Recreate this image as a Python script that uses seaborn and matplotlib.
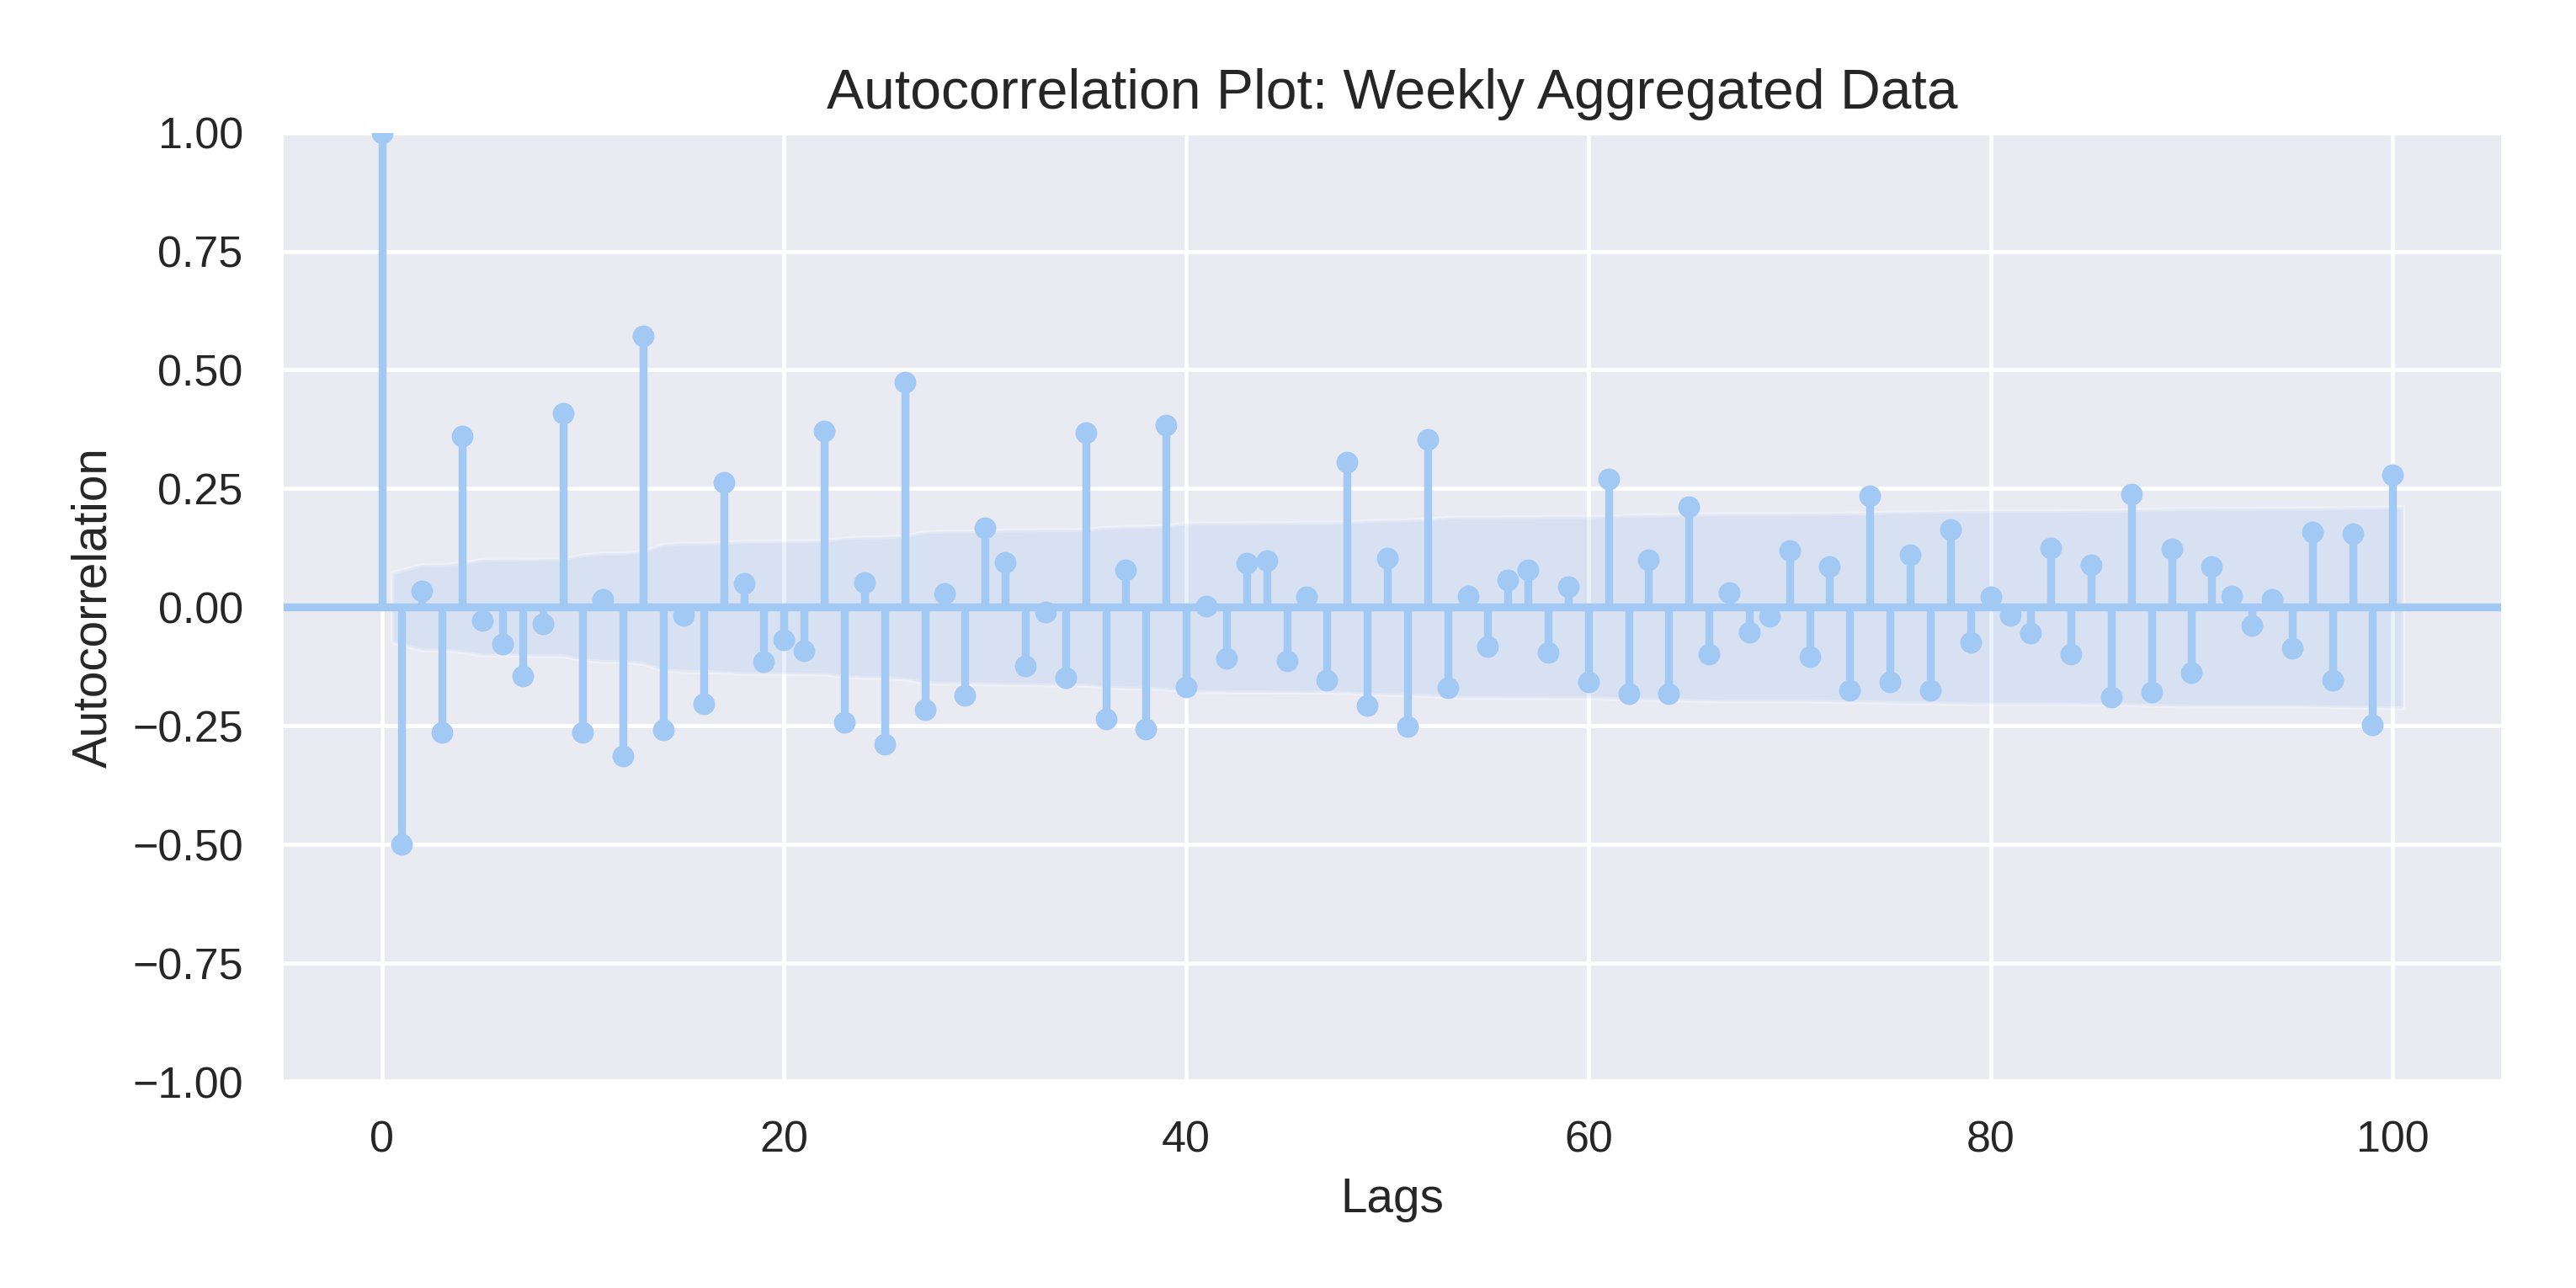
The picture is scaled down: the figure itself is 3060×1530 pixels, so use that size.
import numpy as np
import pandas as pd
import matplotlib
matplotlib.use("Agg")
import matplotlib.pyplot as plt
import seaborn as sns

# autocorrelation values, lag 0..100
acf_values = [
    1.000, -0.499, 0.034, -0.263, 0.360, -0.028, -0.078, -0.145, -0.035, 0.408,
    -0.263, 0.017, -0.313, 0.572, -0.258, -0.017, -0.203, 0.264, 0.051, -0.114,
    -0.068, -0.092, 0.371, -0.242, 0.052, -0.288, 0.474, -0.215, 0.029, -0.185,
    0.167, 0.095, -0.123, -0.010, -0.148, 0.368, -0.235, 0.078, -0.256, 0.384,
    -0.168, 0.003, -0.108, 0.093, 0.098, -0.113, 0.022, -0.154, 0.306, -0.206,
    0.104, -0.251, 0.353, -0.170, 0.024, -0.083, 0.058, 0.078, -0.095, 0.043,
    -0.157, 0.270, -0.182, 0.100, -0.182, 0.211, -0.099, 0.030, -0.053, -0.019,
    0.120, -0.104, 0.086, -0.175, 0.234, -0.157, 0.111, -0.175, 0.164, -0.074,
    0.022, -0.017, -0.054, 0.125, -0.099, 0.089, -0.189, 0.239, -0.178, 0.123,
    -0.137, 0.085, 0.024, -0.039, 0.017, -0.086, 0.158, -0.154, 0.155, -0.247,
    0.279,
]
lags = list(range(len(acf_values)))
n_obs = 715  # sample size estimated from the band width at lag 1

sns.set_theme(style="darkgrid", palette="pastel")
plt.rcParams["font.family"] = ["Liberation Sans", "DejaVu Sans"]
color = sns.color_palette("pastel")[0]

df = pd.DataFrame({"lag": lags, "acf": acf_values})

# Bartlett confidence band (as statsmodels draws it), centred on zero
acf_arr = df["acf"].to_numpy()
varacf = np.ones(len(acf_arr)) / n_obs
varacf[0] = 0
varacf[2:] *= 1 + 2 * np.cumsum(acf_arr[1:-1] ** 2)
band = 1.96 * np.sqrt(varacf)
band_lags = df["lag"].to_numpy()[1:].astype(float)
band_lags[0] -= 0.5
band_lags[-1] += 0.5

fig, ax = plt.subplots(figsize=(9, 4.5), dpi=340)

ax.fill_between(band_lags, -band[1:], band[1:], color=color, alpha=0.25,
                edgecolor="white")
ax.vlines(df["lag"], 0, df["acf"], color=color, lw=2)
ax.axhline(0, color=color, lw=2)
sns.scatterplot(data=df, x="lag", y="acf", color=color, s=30, linewidth=0,
                ax=ax, zorder=3)

ax.margins(x=0.05)
ax.set_ylim(-1, 1)
ax.set_yticks(np.arange(-1, 1.01, 0.25))
ax.set_title("Autocorrelation Plot: Weekly Aggregated Data", fontsize=14)
ax.set_xlabel("Lags")
ax.set_ylabel("Autocorrelation")

plt.subplots_adjust(left=0.109, right=0.972, top=0.897, bottom=0.16)
plt.savefig("out.png", dpi=340)
plt.close()
